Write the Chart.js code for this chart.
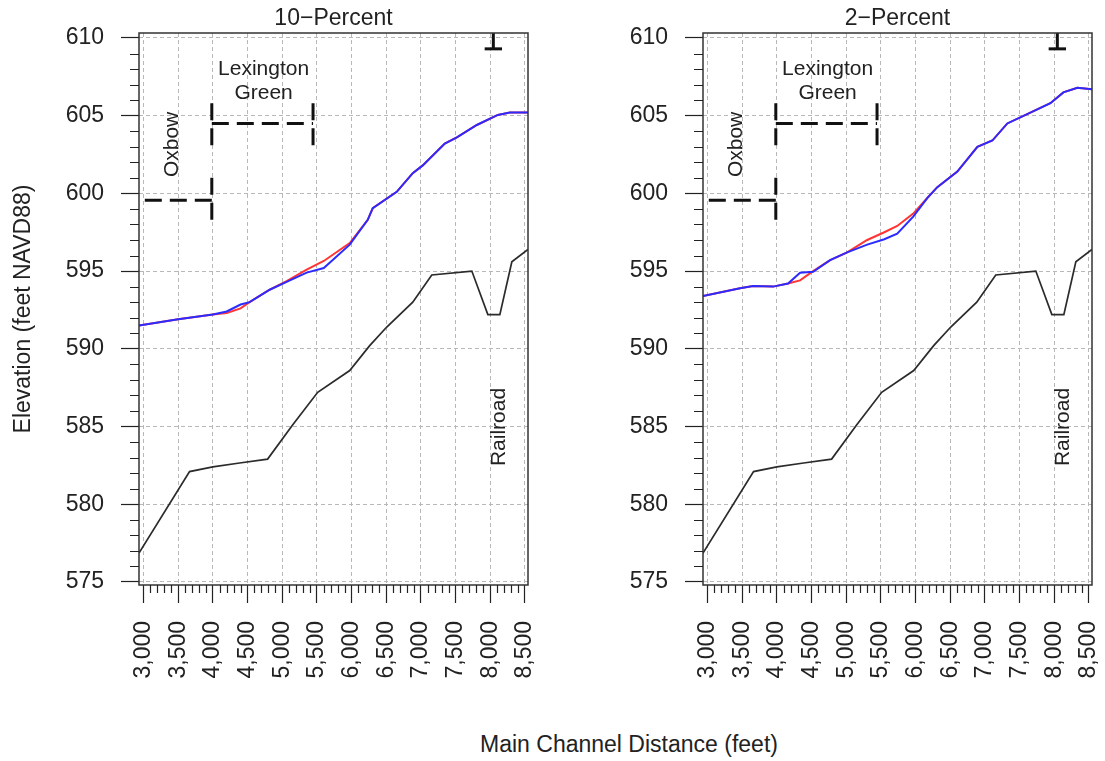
<!DOCTYPE html>
<html>
<head>
<meta charset="utf-8">
<script src="https://cdn.jsdelivr.net/npm/chart.js@4.4.1/dist/chart.umd.min.js"></script>
<style>
  body { margin: 0; background: #fff; width: 1105px; height: 761px; position: relative; overflow: hidden;
         font-family: "Liberation Sans", Arial, sans-serif; }
  .panel { position: absolute; top: 0; }
  #left { left: 0; }
  #right { left: 564px; }
  #xtitle { position: absolute; left: 429px; width: 400px; top: 731px; line-height: 26px;
            text-align: center; font-size: 23px; color: #222; }
</style>
</head>
<body>
<div class="panel" id="left"><canvas id="tenChart" width="545" height="700"></canvas></div>
<div class="panel" id="right"><canvas id="twoChart" width="545" height="700"></canvas></div>
<div id="xtitle">Main Channel Distance (feet)</div>
<script>
// axis ticks
const distTicks = [3000, 3500, 4000, 4500, 5000, 5500, 6000, 6500, 7000, 7500, 8000, 8500];
const elevTicks = [575, 580, 585, 590, 595, 600, 605, 610];

// channel bed profile (same in both panels)
const bedDist = [2935, 3664, 4000, 4386, 4790, 5150, 5512, 5974, 6262, 6508, 6883, 7157, 7735, 7966, 8139, 8312, 8545];
const bedElev = [576.85, 582.1, 582.4, 582.65, 582.9, 585.1, 587.2, 588.6, 590.2, 591.4, 593.0, 594.75, 595.0, 592.2, 592.2, 595.6, 596.4];

// 10-percent water surface
const tenDist = [2935, 3500, 4000, 4200, 4400, 4530, 4820, 5064, 5353, 5600, 5974, 6234, 6306, 6652, 6883, 7027, 7345, 7519, 7807, 8110, 8284, 8545];
const tenBlue = [591.5, 591.9, 592.2, 592.4, 592.85, 593.0, 593.8, 594.3, 594.9, 595.2, 596.7, 598.3, 599.05, 600.1, 601.3, 601.8, 603.2, 603.6, 604.4, 605.05, 605.2, 605.2];
const tenRed  = [591.5, 591.9, 592.2, 592.3, 592.6, 593.0, 593.8, 594.35, 595.1, 595.65, 596.8, 598.3, 599.05, 600.1, 601.3, 601.8, 603.2, 603.6, 604.4, 605.05, 605.2, 605.2];

// 2-percent water surface
const twoDist = [2935, 3469, 3657, 3946, 4162, 4335, 4523, 4768, 5014, 5303, 5550, 5736, 5967, 6169, 6314, 6603, 6892, 7108, 7324, 7656, 7945, 8132, 8334, 8545];
const twoBlue = [593.4, 593.9, 594.04, 594.0, 594.2, 594.9, 594.95, 595.7, 596.2, 596.7, 597.05, 597.4, 598.5, 599.7, 600.4, 601.4, 603.0, 603.4, 604.5, 605.2, 605.8, 606.5, 606.8, 606.7];
const twoRed  = [593.4, 593.9, 594.04, 594.0, 594.2, 594.4, 595.0, 595.7, 596.2, 597.0, 597.5, 597.9, 598.7, 599.7, 600.4, 601.4, 603.0, 603.4, 604.5, 605.2, 605.8, 606.5, 606.8, 606.7];

// reach markers
const oxbowDist = [3985, 2935];
const oxbowElev = [599.55, 599.55];
const oxbowEndDist = [3985, 3985];
const oxbowEndElev = [601.0, 598.2];
const lexDist = [3985, 5445];
const lexElev = [604.5, 604.5];
const lexEndElev = [605.8, 603.0];
const railDist = [7920, 8170];
const railElev = [609.3, 609.3];
const railPostDist = [8045, 8045];
const railPostElev = [611, 609.3];

const notes = [
  { text: 'Oxbow', x: 3410, y: 603.15, rotate: true },
  { text: 'Lexington', x: 4732, y: 607.62, rotate: false },
  { text: 'Green', x: 4732, y: 606.07, rotate: false },
  { text: 'Railroad', x: 8130, y: 584.97, rotate: true }
];

const FONT = "'Liberation Sans', Arial, sans-serif";
const INK = '#222';
const pts = (xs, ys) => xs.map((x, i) => ({ x: x, y: ys[i] }));

const framePlugin = {
  id: 'frame',
  afterDatasetsDraw(chart) {
    const { ctx, chartArea: a, scales: { x, y } } = chart;
    ctx.save();
    ctx.strokeStyle = '#333';
    ctx.lineWidth = 1.5;
    ctx.strokeRect(a.left, a.top, a.right - a.left, a.bottom - a.top);
    // minor ticks
    ctx.lineWidth = 1.2;
    ctx.strokeStyle = INK;
    ctx.beginPath();
    for (let v = 3000; v <= 8500; v += 100) {
      if (v % 500 === 0) continue;
      const px = Math.round(x.getPixelForValue(v)) + 0.5;
      ctx.moveTo(px, a.bottom);
      ctx.lineTo(px, a.bottom + 8);
    }
    for (let v = 575; v <= 610; v += 1) {
      if (v % 5 === 0) continue;
      const py = Math.round(y.getPixelForValue(v)) + 0.5;
      ctx.moveTo(a.left - 9, py);
      ctx.lineTo(a.left, py);
    }
    ctx.stroke();
    // labels
    ctx.fillStyle = INK;
    ctx.font = '21px ' + FONT;
    ctx.textAlign = 'center';
    notes.forEach(n => {
      const px = x.getPixelForValue(n.x);
      const py = y.getPixelForValue(n.y);
      ctx.save();
      ctx.translate(px, py);
      if (n.rotate) {
        ctx.rotate(-Math.PI / 2);
        ctx.textBaseline = 'middle';
      } else {
        ctx.textBaseline = 'alphabetic';
      }
      ctx.fillText(n.text, 0, 0);
      ctx.restore();
    });
    ctx.restore();
  }
};

function marker(xs, ys, dashed) {
  return {
    data: pts(xs, ys),
    borderColor: '#111',
    borderWidth: 3,
    borderDash: dashed ? [17, 8] : [],
    borderCapStyle: 'butt'
  };
}

function makeChart(id, title, dist, blue, red, yTitle) {
  return new Chart(document.getElementById(id), {
    type: 'line',
    data: {
      datasets: [
        { data: pts(dist, blue), borderColor: '#2b2bff', borderWidth: 2 },
        { data: pts(dist, red), borderColor: '#ff3535', borderWidth: 2 },
        { data: pts(bedDist, bedElev), borderColor: '#2b2b2b', borderWidth: 1.7 },
        marker(oxbowDist, oxbowElev, true),
        marker(oxbowEndDist, oxbowEndElev, true),
        marker(lexDist, lexElev, true),
        marker([lexDist[0], lexDist[0]], lexEndElev, true),
        marker([lexDist[1], lexDist[1]], lexEndElev, true),
        marker(railDist, railElev, false),
        marker(railPostDist, railPostElev, false)
      ]
    },
    options: {
      responsive: false,
      animation: false,
      layout: { padding: { left: 0, right: 17, top: 0, bottom: 0 } },
      elements: { point: { radius: 0 }, line: { tension: 0 } },
      plugins: {
        legend: { display: false },
        tooltip: { enabled: false },
        title: {
          display: true, text: title, fullSize: false, color: INK,
          font: { family: FONT, size: 23, weight: 'normal' },
          padding: { top: 4.5, bottom: 0.9 }
        }
      },
      scales: {
        x: {
          type: 'linear', min: 2935, max: 8545,
          afterBuildTicks: s => { s.ticks = distTicks.map(v => ({ value: v })); },
          afterFit: s => { s.height = 115; s.paddingLeft = 0; s.paddingRight = 0; },
          grid: { color: '#b8b8b8', lineWidth: 1, tickLength: 18, tickColor: INK, tickWidth: 1.2, tickBorderDash: [] },
          border: { display: false, dash: [4, 3] },
          ticks: {
            autoSkip: false, minRotation: 90, maxRotation: 90, padding: 18, color: INK,
            font: { family: FONT, size: 23 },
            callback: v => v.toLocaleString('en-US')
          }
        },
        y: {
          min: 574.8, max: 610.32,
          afterBuildTicks: s => { s.ticks = elevTicks.map(v => ({ value: v })); },
          afterFit: s => { s.width = 139; s.paddingTop = 0; s.paddingBottom = 0; },
          grid: { color: '#b8b8b8', lineWidth: 1, tickLength: 18, tickColor: INK, tickWidth: 1.2, tickBorderDash: [] },
          border: { display: false, dash: [4, 3] },
          ticks: {
            padding: 17, color: INK,
            font: { family: FONT, size: 23 }
          },
          title: {
            display: yTitle, text: 'Elevation (feet NAVD88)', color: INK,
            font: { family: FONT, size: 23 },
            padding: { top: 10, bottom: 0 }
          }
        }
      }
    },
    plugins: [framePlugin]
  });
}

makeChart('tenChart', '10\u2212Percent', tenDist, tenBlue, tenRed, true);
makeChart('twoChart', '2\u2212Percent', twoDist, twoBlue, twoRed, false);
</script>
</body>
</html>
